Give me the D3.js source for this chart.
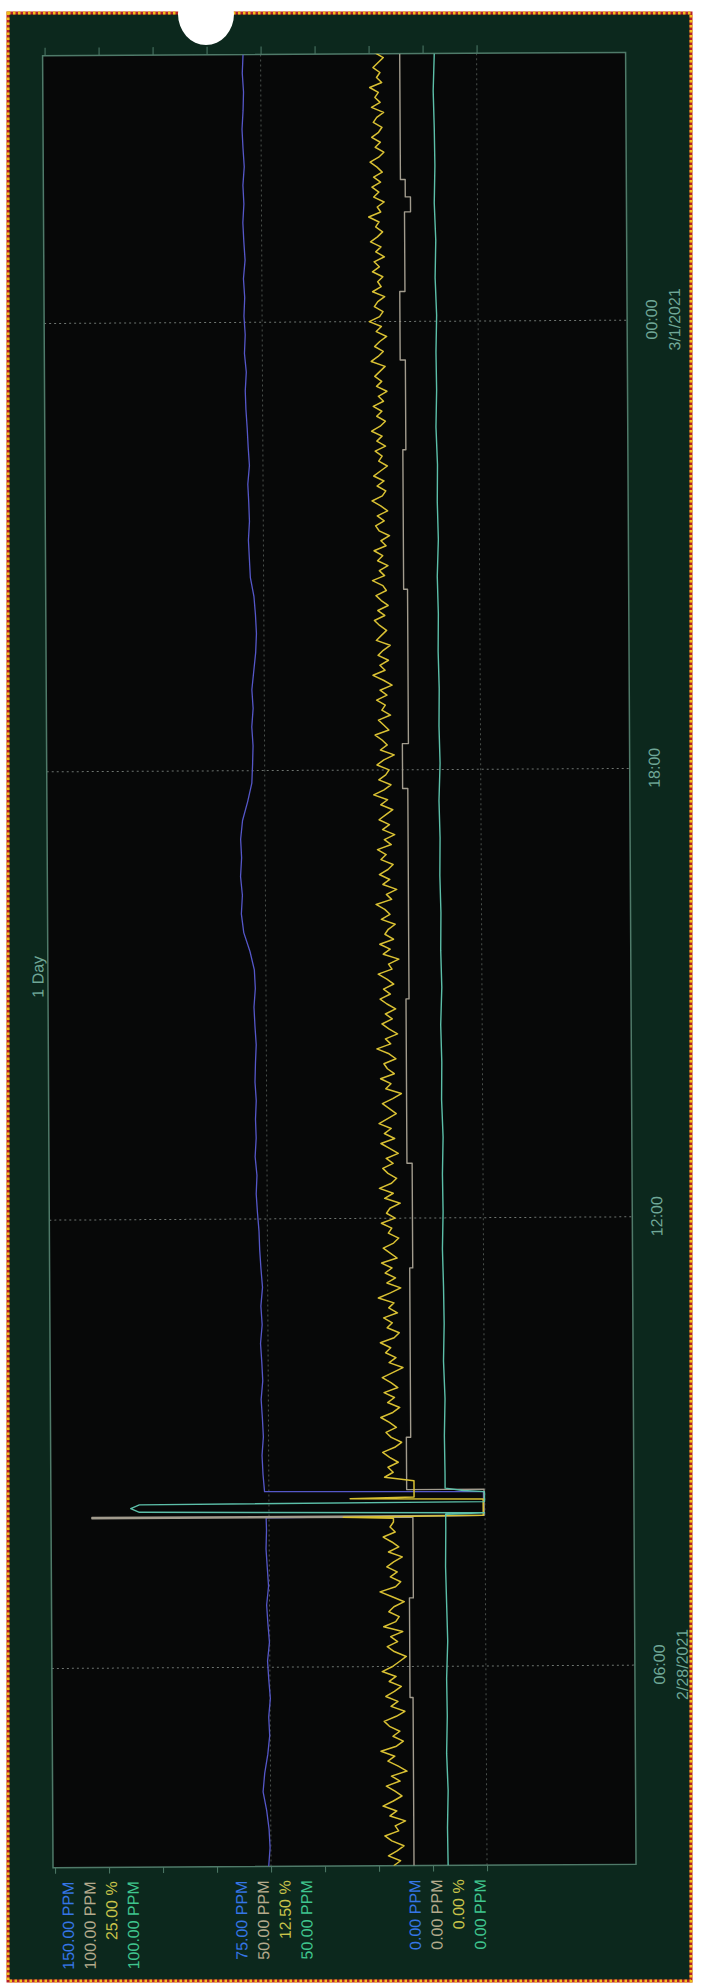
<!DOCTYPE html>
<html>
<head>
<meta charset="utf-8">
<title>1 Day trend</title>
<script src="https://cdn.jsdelivr.net/npm/d3@7/dist/d3.min.js"></script>
<style>
  html, body { margin: 0; padding: 0; background: #ffffff; }
  svg { display: block; }
</style>
</head>
<body>
<svg id="chart" width="703" height="1986"></svg>
<script>
// ---- trend data -------------------------------------------------------
const chartTitle = "1 Day";
const timeDomain = ["2021-02-28 03:20", "2021-03-01 03:35"];
const tickTimes = ["2021-02-28 06:00", "2021-02-28 12:00", "2021-02-28 18:00", "2021-03-01 00:00"];
const datedTicks = ["2021-02-28 06:00", "2021-03-01 00:00"];

// pen order: blue, tan, yellow, green
const penRanges = [150, 100, 25, 100];
const penUnits = ["PPM", "PPM", "%", "PPM"];

// blue pen (PPM, 15 min samples)
const blueBeforeStart = "2021-02-28 03:20";
const blueBefore = [75.8,75.3,75.6,76.4,77.6,77.0,75.9,75.2,75.5,74.9,75.4,75.8,75.1,75.6,76.0,75.3,75.7,76.1,75.9];
const blueCal = [["2021-02-28 08:00",76.0],["2021-02-28 08:01",0.5],["2021-02-28 08:20",0.5],["2021-02-28 08:21",76.5]];
const blueAfterStart = "2021-02-28 08:35";
const blueAfter = [77.0,77.3,76.8,77.1,77.5,76.9,77.2,77.6,77.0,77.4,76.8,77.3,77.7,77.9,
  78.4,78.8,78.5,79.1,78.7,78.9,78.6,79.0,78.8,78.5,78.9,79.2,78.7,79.0,
  80.5,82.6,83.4,83.0,83.6,83.2,83.5,82.8,81.0,
  79.5,79.2,79.0,79.4,78.9,79.3,78.6,77.9,
  77.6,77.9,78.4,
  79.6,79.9,80.2,79.8,80.0,80.3,79.7,80.1,80.4,80.8,81.0,80.6,81.2,80.9,81.3,81.0,81.4,80.8,81.2,81.5,81.1,81.4,80.9,81.3,81.6,81.2,81.0,81.4,81.1];

// tan pen (PPM, value changes)
const tanSteps = [
  ["2021-02-28 03:20",16.9],["2021-02-28 05:35",17.6],["2021-02-28 06:55",16.7],
  ["2021-02-28 08:00",91.0],["2021-02-28 08:01",0.2],["2021-02-28 08:22",18.1],
  ["2021-02-28 09:04",17.1],["2021-02-28 11:20",16.4],["2021-02-28 12:44",17.6],
  ["2021-02-28 14:56",16.9],["2021-02-28 17:45",18.1],["2021-02-28 18:21",16.7],
  ["2021-02-28 20:25",17.6],["2021-02-28 22:17",16.9],["2021-02-28 23:29",18.1],
  ["2021-03-01 00:24",16.9],["2021-03-01 01:28",15.5],["2021-03-01 01:40",16.7],
  ["2021-03-01 01:54",17.8],["2021-03-01 03:35",17.8]
];

// yellow pen (%, 4 min samples)
const yellowBeforeStart = "2021-02-28 03:20";
const yellowBefore = [5.4,5.0,5.7,5.2,4.8,5.5,5.9,5.1,5.3,4.7,
  5.6,5.2,6.0,5.4,4.9,5.3,5.8,5.0,5.5,4.6,
  5.1,5.7,5.3,6.1,5.2,4.8,5.4,5.0,5.6,5.9,
  5.2,4.7,5.5,5.1,5.8,5.3,4.9,5.6,5.2,6.0,
  5.4,5.0,4.6,5.3,5.7,5.1,5.5,4.8,5.9,5.2,
  5.0,5.6,5.3,4.7,5.4,6.1,5.2,4.9,5.5,5.1,
  5.7,5.3,4.8,5.6,5.0,5.4,5.9,5.2,5.5,5.3];
const yellowCal = [["2021-02-28 07:59",5.3],["2021-02-28 08:00",8.2],["2021-02-28 08:01",0.1],
  ["2021-02-28 08:14",0.1],["2021-02-28 08:15",7.8],["2021-02-28 08:16",4.1],["2021-02-28 08:29",4.1]];
const yellowAfterStart = "2021-02-28 08:32";
const yellowAfter = [5.8,5.3,5.6,5.0,5.5,5.9,5.2,4.8,5.4,5.7,
  5.1,5.5,6.0,5.3,4.9,5.6,5.2,5.8,5.0,5.4,
  5.9,5.3,4.7,5.5,5.1,5.7,5.4,6.0,5.2,4.9,
  5.6,5.3,5.8,5.0,5.5,5.2,6.1,5.4,4.8,5.6,
  5.1,5.7,5.3,5.9,5.0,5.4,5.8,5.2,4.9,5.5,
  5.3,5.9,5.1,5.6,5.4,4.8,5.7,5.2,6.0,5.3,
  5.0,5.5,5.8,5.2,5.6,4.9,5.4,5.9,5.1,5.7,
  5.3,6.0,5.5,5.0,5.4,5.8,5.2,4.7,5.6,5.3,
  5.9,5.1,5.5,5.7,5.0,5.4,6.1,5.3,5.6,4.9,
  5.4,5.8,5.2,5.6,5.0,5.5,5.9,5.3,5.7,5.1,
  5.5,6.0,5.2,5.4,4.8,5.7,5.3,5.9,5.1,5.6,
  5.4,5.0,5.8,5.3,5.6,6.1,5.2,5.5,4.9,5.7,
  5.3,5.9,5.4,5.1,5.8,5.5,6.0,5.2,5.6,5.0,
  5.7,5.3,5.9,5.5,5.1,5.8,5.4,6.2,5.6,5.2,
  5.9,5.5,5.3,6.0,5.6,5.0,5.8,5.4,5.7,6.1,
  5.3,5.6,5.9,5.2,5.7,5.5,6.0,5.4,5.8,5.1,
  5.6,6.2,5.5,5.8,5.3,5.9,5.6,5.2,6.0,5.7,
  5.4,5.8,6.1,5.5,5.9,5.3,5.7,6.0,5.4,5.6,
  6.2,5.5,5.8,5.3,5.9,5.6,6.1,5.4,5.7,5.2,
  5.8,6.0,5.5,5.9,5.3,5.7,6.2,5.6,5.4,5.9,
  5.5,6.1,5.7,5.3,5.8,5.6,6.0,5.4,5.9,5.6,
  6.2,5.7,5.4,5.9,5.6,6.1,5.5,5.8,5.3,5.9,
  5.6,6.0,5.7,5.4,6.2,5.8,5.5,6.0,5.7,5.3,
  5.9,5.6,6.3,5.7,5.5,6.0,5.8,5.4,6.1,5.6,
  5.8,5.5,6.1,5.7,6.0,5.4,5.9,5.6,6.2,5.8,
  5.5,5.9,5.7,6.3,5.6,5.8,5.4,6.0,5.7,6.1,
  5.6,6.0,5.5,5.8,6.2,5.7,5.4,5.9,5.6,6.1,
  5.7,5.5,6.0,5.8,5.4,6.1,5.6,5.9,5.7,6.2,
  5.5,5.8,5.6,6.0,5.7,5.4,5.9];

// green pen (PPM, 30 min samples)
const greenBeforeStart = "2021-02-28 03:20";
const greenBefore = [9.0,9.1,8.9,9.2,9.0,9.1,8.8,9.0,9.2,9.1];
const greenCal = [["2021-02-28 08:02",9.1],["2021-02-28 08:03",0.1],["2021-02-28 08:05",80.0],["2021-02-28 08:08",82.0],
  ["2021-02-28 08:11",80.0],["2021-02-28 08:12",0.1],["2021-02-28 08:20",0.1],["2021-02-28 08:21",5.0],["2021-02-28 08:23",9.2]];
const greenAfterStart = "2021-02-28 08:35";
const greenAfter = [9.2,9.3,9.1,9.4,9.2,9.3,9.5,9.3,9.4,9.2,
  9.5,9.4,9.6,9.3,9.5,9.4,9.6,9.5,9.7,9.4,
  9.6,9.5,9.7,9.6,9.8,9.5,9.7,9.6,9.9,9.7,
  9.8,9.6,9.9,9.7,10.0,9.8,9.9,10.1,9.8];

// ---- helpers -----------------------------------------------------------
const parse = d3.timeParse("%Y-%m-%d %H:%M");
const regular = (start, step, values) =>
  values.map((v, i) => ({ t: d3.timeMinute.offset(parse(start), i * step), v }));
const explicit = pairs => pairs.map(([s, v]) => ({ t: parse(s), v }));

const series = [
  { data: [...regular(blueBeforeStart, 15, blueBefore), ...explicit(blueCal), ...regular(blueAfterStart, 15, blueAfter)],
    color: "#5557c8", width: 1.3, curve: d3.curveLinear },
  { data: explicit(tanSteps), color: "#a19b8d", width: 1.4, curve: d3.curveStepAfter },
  { data: [...regular(yellowBeforeStart, 4, yellowBefore), ...explicit(yellowCal), ...regular(yellowAfterStart, 4, yellowAfter)],
    color: "#d9c133", width: 1.5, curve: d3.curveLinear },
  { data: [...regular(greenBeforeStart, 30, greenBefore), ...explicit(greenCal), ...regular(greenAfterStart, 30, greenAfter)],
    color: "#5cbfa9", width: 1.4, curve: d3.curveLinear }
];
const labelColors = ["#3576e6", "#b4aa8c", "#c9c44a", "#3fc58e"];

// ---- page layout (screen space) ----------------------------------------
const svg = d3.select("#chart");
const PAGE_W = 703, PAGE_H = 1986;

svg.append("rect").attr("width", PAGE_W).attr("height", PAGE_H).attr("fill", "#ffffff");
// green printout panel
svg.append("rect").attr("x", 9).attr("y", 14).attr("width", 681).attr("height", 1966)
  .attr("fill", "#0c281d");
// beaded edge of the sheet
svg.append("rect").attr("x", 8).attr("y", 13).attr("width", 683).attr("height", 1968)
  .attr("fill", "none").attr("stroke", "#b8202a").attr("stroke-width", 3);
svg.append("rect").attr("x", 8).attr("y", 13).attr("width", 683).attr("height", 1968)
  .attr("fill", "none").attr("stroke", "#f0c21c").attr("stroke-width", 3)
  .attr("stroke-dasharray", "2.5,2.5");

// ---- chart group: drawn landscape, turned a quarter turn ----------------
// inside the group: x = time (left->right), y = value axis (top = max)
const root = svg.append("g").attr("transform", "rotate(-0.33, 351, 993)");
const g = root.append("g").attr("transform", `translate(0,${PAGE_H}) rotate(-90)`);

const plot = { x0: 120, x1: 1932, y0: 48, y1: 631 };
const valTop = 50, valBottom = 482;

const x = d3.scaleTime().domain(timeDomain.map(parse)).range([plot.x0, plot.x1]);
const yScales = penRanges.map(max => d3.scaleLinear().domain([0, max]).range([valBottom, valTop]));

// plot background
g.append("rect").attr("x", plot.x0).attr("y", plot.y0)
  .attr("width", plot.x1 - plot.x0).attr("height", plot.y1 - plot.y0)
  .attr("fill", "#070808");

// time grid
g.append("g").selectAll("line").data(tickTimes.map(parse)).join("line")
  .attr("x1", d => x(d)).attr("x2", d => x(d))
  .attr("y1", plot.y0).attr("y2", plot.y1)
  .attr("stroke", "#6e7470").attr("stroke-width", 1).attr("stroke-dasharray", "2,3");

// value grid (mid and zero)
const y0s = yScales[0];
g.append("g").selectAll("line").data([penRanges[0] / 2, 0]).join("line")
  .attr("x1", plot.x0).attr("x2", plot.x1)
  .attr("y1", d => y0s(d)).attr("y2", d => y0s(d))
  .attr("stroke", "#4a504c").attr("stroke-width", 1).attr("stroke-dasharray", "2,3");

// plot frame
g.append("rect").attr("x", plot.x0).attr("y", plot.y0)
  .attr("width", plot.x1 - plot.x0).attr("height", plot.y1 - plot.y0)
  .attr("fill", "none").attr("stroke", "#4f7a69").attr("stroke-width", 1.5);

// value ticks (eighths) on both ends of the plot
const eighths = d3.range(0, 9).map(i => penRanges[0] * i / 8);
const leftAxis = g.append("g").attr("transform", `translate(${plot.x0},0)`)
  .call(d3.axisLeft(y0s).tickValues(eighths).tickSize(6).tickFormat(""));
const rightAxis = g.append("g").attr("transform", `translate(${plot.x1},0)`)
  .call(d3.axisRight(y0s).tickValues(eighths).tickSize(8).tickFormat(""));
[leftAxis, rightAxis].forEach(a => {
  a.select(".domain").remove();
  a.selectAll("line").attr("stroke", "#4f7a69");
});

// time axis
const fmtTime = d3.timeFormat("%H:%M");
const fmtDate = d => `${d.getMonth() + 1}/${d.getDate()}/${d.getFullYear()}`;
const dated = new Set(datedTicks);
const timeAxis = g.append("g").attr("transform", `translate(0,${plot.y1})`)
  .call(d3.axisBottom(x).tickValues(tickTimes.map(parse)).tickSize(0).tickFormat(""));
timeAxis.select(".domain").remove();
timeAxis.selectAll(".tick").each(function (d) {
  const t = d3.select(this).append("text")
    .attr("fill", "#6fa797").attr("font-family", "Liberation Sans, Arial, sans-serif")
    .attr("font-size", 16).attr("text-anchor", "middle");
  t.append("tspan").attr("x", 0).attr("y", 30).text(fmtTime(d));
  const key = d3.timeFormat("%Y-%m-%d %H:%M")(d);
  if (dated.has(key)) t.append("tspan").attr("x", 0).attr("y", 53).text(fmtDate(d));
});

// pen scale labels: max block at top, mid block centred, zero block at bottom
const fmtVal = (v, u) => `${v.toFixed(2)} ${u}`;
const lineGap = 21.7;
const labelX = plot.x0 - 14;
const labels = g.append("g").attr("font-family", "Liberation Sans, Arial, sans-serif")
  .attr("font-size", 16).attr("text-anchor", "end");
penRanges.forEach((max, i) => {
  const ys = yScales[i];
  const rows = [
    { v: max, y: ys(max) + 13 + i * lineGap },
    { v: max / 2, y: ys(max / 2) + 3 - 1.5 * lineGap + i * lineGap },
    { v: 0, y: ys(0) - 7 - (3 - i) * lineGap }
  ];
  rows.forEach(r => labels.append("text")
    .attr("x", labelX).attr("y", r.y + 5.5)
    .attr("fill", labelColors[i]).text(fmtVal(r.v, penUnits[i])));
});

// title
g.append("text").attr("x", PAGE_H - 975).attr("y", 43.5)
  .attr("text-anchor", "middle").attr("fill", "#6fa797")
  .attr("font-family", "Liberation Sans, Arial, sans-serif").attr("font-size", 16)
  .text(chartTitle);

// pens
g.append("clipPath").attr("id", "plotClip").append("rect")
  .attr("x", plot.x0).attr("y", plot.y0).attr("width", plot.x1 - plot.x0).attr("height", plot.y1 - plot.y0);
const pens = g.append("g").attr("clip-path", "url(#plotClip)");
series.forEach((s, i) => {
  const ys = yScales[i];
  const line = d3.line().x(d => x(d.t)).y(d => ys(d.v)).curve(s.curve);
  const data = s.data.slice().sort((a, b) => a.t - b.t);
  pens.append("path").datum(data).attr("d", line)
    .attr("fill", "none").attr("stroke", s.color).attr("stroke-width", s.width)
    .attr("stroke-linejoin", "round");
});

// punched hole at the top edge of the sheet
svg.append("ellipse").attr("cx", 206).attr("cy", 14).attr("rx", 28).attr("ry", 31)
  .attr("fill", "#ffffff");
</script>
